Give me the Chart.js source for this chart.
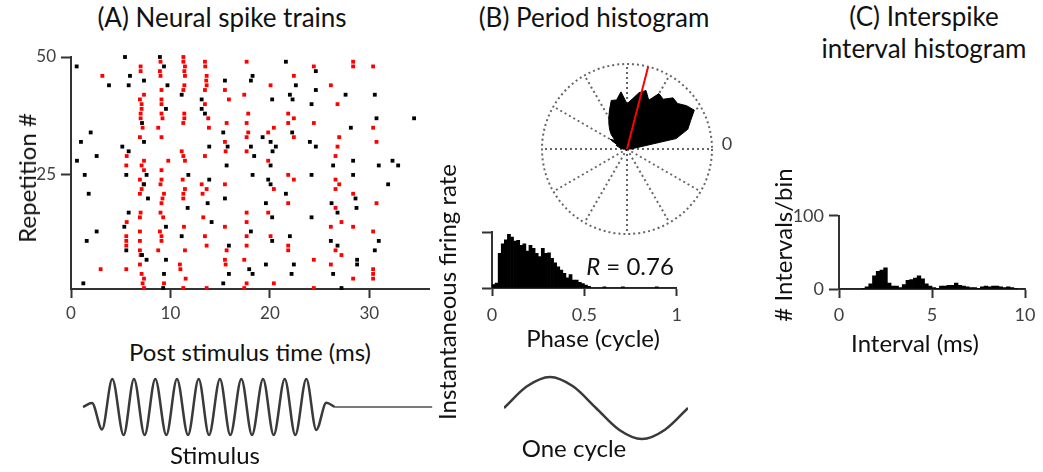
<!DOCTYPE html>
<html>
<head>
<meta charset="utf-8">
<script src="https://cdn.jsdelivr.net/npm/chart.js@4.4.0/dist/chart.umd.min.js"></script>
<style>
  body { margin: 0; background: #fff; width: 1043px; height: 472px; overflow: hidden; position: relative; font-family: Lato, "Open Sans", sans-serif; color: #111; }
  .box { position: absolute; }
  .txt { position: absolute; white-space: nowrap; line-height: 1; transform: translate(-50%, -50%); }
  .rot { transform: translate(-50%, -50%) rotate(-90deg); }
  .title { font-size: 26px; }
  .lab { font-size: 24px; }
</style>
</head>
<body>
<div class="box" style="left:0;top:40px;width:440px;height:290px"><canvas id="raster"></canvas></div>
<div class="box" style="left:71px;top:372px;width:362px;height:70px"><canvas id="stimulus"></canvas></div>
<div class="box" style="left:537px;top:59px;width:180px;height:180px"><canvas id="rose"></canvas></div>
<div class="box" style="left:537px;top:59px;width:180px;height:180px"><canvas id="vector"></canvas></div>
<div class="box" style="left:420px;top:220px;width:270px;height:110px"><canvas id="phase"></canvas></div>
<div class="box" style="left:504px;top:372px;width:184px;height:72px"><canvas id="cycle"></canvas></div>
<div class="box" style="left:760px;top:200px;width:283px;height:130px"><canvas id="isi"></canvas></div>

<div class="txt title" style="left:222px;top:17px">(A) Neural spike trains</div>
<div class="txt title" style="left:594px;top:17px">(B) Period histogram</div>
<div class="txt title" style="left:924px;top:16px">(C) Interspike</div>
<div class="txt title" style="left:924px;top:48px">interval histogram</div>
<div class="txt lab rot" style="left:27px;top:178px">Repetition #</div>
<div class="txt lab" style="left:250px;top:352px">Post stimulus time (ms)</div>
<div class="txt lab" style="left:215px;top:455px">Stimulus</div>
<div class="txt lab rot" style="left:447px;top:292px">Instantaneous firing rate</div>
<div class="txt lab" style="left:630px;top:266px"><i>R</i> = 0.76</div>
<div class="txt lab" style="left:593px;top:338px">Phase (cycle)</div>
<div class="txt lab" style="left:574px;top:448px">One cycle</div>
<div class="txt lab rot" style="left:783px;top:245px"># Intervals/bin</div>
<div class="txt lab" style="left:915px;top:343px">Interval (ms)</div>
<div class="txt" style="left:727px;top:143px;font-size:18px;color:#404040">0</div>

<script>
// (A) spike times [ms, repetition]
const blackSpikes = [
  [5.43,50],[0.57,48],[5.93,46],[3.82,44],[5.80,44],[7.34,45],[7.14,36],[7.34,32],[1.98,34],[1.0,32],
  [5.16,31],[5.80,30],[0.6,28],[2.58,29],[1.38,25],[5.56,25],[7.6,25],[7.34,23],[1.78,21],[7.74,20],
  [5.80,17],[5.36,14],[2.58,13],[1.58,11],[5.56,9],[7.14,8],[7.6,7],[1.24,2],
  [8.94,50],[9.35,48],[9.7,44],[9.55,39],[9.55,14],[9.55,7],[9.35,4],[9.27,1],
  [11.13,42],[11.8,25],[11.73,18],[11.13,12],
  [13.14,41],[13.14,39],[13.47,38],[13.9,31],[13.9,24],[13.74,19],[14.14,15],
  [15.48,45],[15.31,34],[15.75,31],[15.65,27],[15.48,20],[15.88,10],[15.88,4],[15.31,2],
  [18.26,46],[18.09,45],[18.09,31],[18.42,29],[18.26,25],[18.09,13],[17.92,5],[18.26,4],
  [20.23,41],[19.27,33],[20.07,32],[20.6,31],[20.27,30],[20.07,27],[19.83,24],[20.07,23],[19.6,19],
  [20.23,16],[20.23,11],[19.6,6],
  [21.61,49],[22.61,44],[22.01,42],[22.28,41],[22.24,34],[21.61,21],[22.01,12],[22.41,6],[22.18,4],
  [24.62,47],[24.62,43],[24.19,40],[24.02,32],[24.62,31],[24.19,25],[24.19,16],
  [27.61,42],[30.55,42],[30.72,37],[34.5,37],[28.14,35],[28.37,28],[26.36,27],[30.95,27],[32.33,28],
  [32.9,27],[28.37,25],[31.89,23],[26.2,19],[28.61,20],[28.71,18],[26.8,17],[26.13,11],[26.8,10],
  [30.95,11],[30.55,9],[28.77,7],[28.77,6],[26.36,4],[27.2,1]
];
const redSpikes = [
  [3.15,46],[7.0,47],[7.34,42],[6.93,41],[7.0,38],[6.93,33],[5.6,29],[5.56,27],[7.34,28],[7.34,26],
  [6.93,24],[7.1,22],[6.93,21],[6.93,16],[5.6,15],[5.56,12],[6.93,13],[5.56,11],[6.93,11],[5.56,10],
  [6.93,9],[6.93,6],[2.98,5],[5.56,5],[7.1,4],[7.34,3],[7.34,1],
  [7.0,48],[7.1,40],[7.1,39],[7.0,37],[7.2,35],[7.1,27],[7.3,23],[7.0,17],[7.0,8],[7.2,2],
  [8.94,47],[9.0,46],[9.1,43],[9.1,41],[9.1,38],[8.77,35],[9.1,33],[9.78,28],[9.1,26],[9.1,24],
  [9.35,21],[9.1,19],[9.27,16],[8.94,13],[9.1,11],[8.77,9],[9.35,2],
  [9.0,49],[9.1,40],[9.2,37],[9.0,23],[9.2,20],[9.0,17],[9.1,12],
  [11.3,50],[11.46,48],[11.46,46],[11.39,38],[11.29,36],[11.13,30],[11.46,28],[11.23,24],[11.46,22],
  [11.29,20],[11.36,14],[11.46,9],[10.95,6],[11.53,3],[11.29,1],
  [11.3,49],[11.4,47],[11.4,44],[11.3,43],[11.4,37],[11.3,29],[11.3,21],[11.0,5],
  [13.47,49],[13.64,46],[13.64,44],[13.47,43],[13.47,40],[13.8,37],[13.87,35],[13.47,29],[13.14,23],
  [13.64,22],[13.23,21],[13.3,16],[13.47,12],[13.64,10],[13.64,1],[13.5,48],[13.6,45],
  [15.48,43],[15.88,41],[15.65,36],[15.48,32],[15.55,30],[15.48,23],[15.48,14],[15.65,9],[15.48,7],[15.55,6],
  [17.66,49],[17.42,42],[17.82,38],[17.66,36],[17.82,34],[17.66,33],[17.66,30],[17.66,17],[17.66,15],
  [17.66,12],[17.66,10],[17.42,7],[17.66,2],[17.42,1],
  [20.07,44],[20.4,35],[19.83,34],[19.83,28],[20.4,22],[19.83,17],[20.07,12],[20.4,2],
  [22.41,46],[21.84,38],[22.41,37],[21.84,36],[22.41,33],[21.84,25],[22.41,24],[21.84,19],[21.84,9],[21.84,10],
  [24.42,48],[24.42,36],[24.42,7],[24.42,1],
  [28.37,49],[28.37,48],[30.38,48],[26.13,44],[26.8,40],[30.38,35],[26.97,33],[30.72,32],[26.8,31],
  [26.6,29],[26.6,24],[26.97,23],[26.6,22],[28.37,21],[26.6,18],[30.72,19],[27.2,15],[26.13,14],
  [28.37,14],[30.38,13],[26.6,9],[27.2,8],[26.13,6],[30.38,5],[30.38,4],[30.38,3],[28.37,3]
];
const timeTicks = [0, 10, 20, 30];
const repTicks = [25, 50];

// stimulus waveform, extrema (ms, relative amplitude)
const stimT   = [1.21, 2.11, 3.12, 4.15, 5.29, 6.33, 7.40, 8.47, 9.58, 10.65, 11.76, 12.83, 13.87, 14.97, 16.01, 17.12, 18.19, 19.30, 20.37, 21.48, 22.54, 23.65, 24.65, 25.66, 26.5];
const stimAmp = [0, 0.14, -0.8, 1, -1, 1, -1, 1, -1, 1, -1, 1, -1, 1, -1, 1, -1, 1, -1, 1, -1, 1, -0.82, 0.15, 0];
const stimEndMs = 36.3;

// (B) period histogram, 60 bins over one cycle (normalised rate)
const phaseCounts = [
  0.06, 0.09, 0.62, 0.79, 0.86, 0.96, 0.91, 0.84, 0.85, 0.76,
  0.79, 0.66, 0.76, 0.71, 0.62, 0.56, 0.71, 0.62, 0.63, 0.53,
  0.45, 0.38, 0.32, 0.26, 0.18, 0.24, 0.14, 0.14, 0.10, 0.08,
  0.05, 0.03, 0, 0, 0, 0, 0.02, 0, 0, 0,
  0, 0, 0.02, 0, 0, 0, 0, 0, 0, 0,
  0, 0, 0, 0.02, 0, 0, 0, 0, 0, 0
];
const phaseTicks = [0, 0.5, 1];
const meanPhase = 0.21;
const cyclePhase = [0, 0.125, 0.25, 0.375, 0.5, 0.625, 0.75, 0.875, 1];
const cycleAmp = [0, 0.7, 1, 0.7, 0, -0.7, -1, -0.7, 0];

// (C) interspike intervals, 0.2 ms bins
const isiBinMs = 0.2;
const isiCounts = [
  0, 0, 0, 0, 0, 0, 1, 3, 7, 18,
  24, 26, 29, 8, 4, 4, 2, 6, 12, 13,
  15, 18, 14, 7, 4, 2, 1, 4, 4, 5,
  5, 8, 5, 4, 3, 2, 2, 1, 3, 4,
  3, 4, 4, 3, 2, 3, 2, 1, 0, 0
];
const isiPeriodMs = [2.11, 4.32, 6.47, 8.62];
const isiTicksX = [0, 5, 10];
const isiTicksY = [0, 100];

const FONT = "Lato, 'Open Sans', sans-serif";
const AXIS = '#333';
const TICK_TXT = '#404040';
const GRID_DOTS = '#666';
const ROSE_MAX = 1.05;

const base = {
  responsive: true,
  maintainAspectRatio: false,
  animation: false,
  events: [],
  plugins: { legend: { display: false }, tooltip: { enabled: false } },
};

function axisStyle(size, tickLen, pad, ticks, showLabels = true) {
  return {
    border: { display: true, color: AXIS, width: 2 },
    grid: { display: true, drawOnChartArea: false, drawTicks: true, tickLength: tickLen, tickColor: AXIS, tickWidth: 2, offset: false },
    ticks: {
      display: showLabels,
      color: TICK_TXT,
      font: { family: FONT, size: size },
      padding: pad,
      maxRotation: 0,
      autoSkip: false,
      callback: (v) => String(v),
    },
    afterBuildTicks: (s) => { s.ticks = ticks.map((v) => ({ value: v })); },
  };
}

function hiddenAxis(min, max) {
  return { type: 'linear', display: false, min: min, max: max };
}

// (A) raster
new Chart(document.getElementById('raster'), {
  type: 'scatter',
  data: {
    datasets: [
      { data: blackSpikes.map((p) => ({ x: p[0], y: p[1] })), pointStyle: 'rect', pointRadius: 2.7, backgroundColor: '#000', borderWidth: 0, clip: false },
      { data: redSpikes.map((p) => ({ x: p[0], y: p[1] })), pointStyle: 'rect', pointRadius: 2.7, backgroundColor: '#ff0000', borderWidth: 0, clip: false },
    ],
  },
  options: {
    ...base,
    layout: { padding: { left: 0, right: 11, top: 17, bottom: 0 } },
    scales: {
      x: { type: 'linear', min: 0, max: 36, ...axisStyle(17, 9, 5, timeTicks), afterFit: (s) => { s.height = 41; } },
      y: { type: 'linear', min: 0.8, max: 50, ...axisStyle(17, 10, 5, repTicks), afterFit: (s) => { s.width = 71; } },
    },
  },
});

// stimulus
new Chart(document.getElementById('stimulus'), {
  type: 'line',
  data: {
    datasets: [
      { data: stimT.map((t, i) => ({ x: t, y: stimAmp[i] })), borderColor: '#3a3a3a', borderWidth: 2.5, pointRadius: 0, cubicInterpolationMode: 'monotone', clip: false },
      { data: [{ x: stimT[stimT.length - 1], y: 0 }, { x: stimEndMs, y: 0 }], borderColor: '#7a7a7a', borderWidth: 2, pointRadius: 0, clip: false },
    ],
  },
  options: { ...base, layout: { padding: 0 }, scales: { x: hiddenAxis(0, 36.38), y: hiddenAxis(-1.25, 1.25) } },
});

// (B) rose plot
new Chart(document.getElementById('rose'), {
  type: 'radar',
  data: {
    labels: phaseCounts.map(() => ''),
    datasets: [{ data: phaseCounts.slice().reverse(), backgroundColor: '#000', borderColor: '#000', borderWidth: 1, pointRadius: 0, fill: 'origin' }],
  },
  options: {
    ...base,
    layout: { padding: 5 },
    scales: {
      r: {
        min: 0, max: ROSE_MAX, startAngle: 96,
        ticks: { display: false, count: 2 },
        pointLabels: { display: false },
        grid: { circular: true, color: GRID_DOTS, lineWidth: 2 },
        border: { dash: [2, 3] },
        angleLines: { display: true, color: GRID_DOTS, lineWidth: (c) => (c.index % 5 === 4 ? 2 : 0), borderDash: [2, 3] },
      },
    },
  },
});

// mean phase vector
const ang = 2 * Math.PI * meanPhase;
new Chart(document.getElementById('vector'), {
  type: 'scatter',
  data: {
    datasets: [{ data: [{ x: 0, y: 0 }, { x: ROSE_MAX * Math.cos(ang), y: ROSE_MAX * Math.sin(ang) }], showLine: true, borderColor: '#ff0000', borderWidth: 2, pointRadius: 0, clip: false }],
  },
  options: { ...base, layout: { padding: 5 }, scales: { x: hiddenAxis(-ROSE_MAX, ROSE_MAX), y: hiddenAxis(-ROSE_MAX, ROSE_MAX) } },
});

// period histogram
new Chart(document.getElementById('phase'), {
  type: 'bar',
  data: {
    datasets: [{ data: phaseCounts.map((v, i) => ({ x: (i + 0.5) / phaseCounts.length, y: v })), backgroundColor: '#000', barPercentage: 1, categoryPercentage: 1 }],
  },
  options: {
    ...base,
    layout: { padding: { left: 0, right: 12, top: 12, bottom: 0 } },
    scales: {
      x: { type: 'linear', min: 0, max: 1, offset: false, ...axisStyle(18, 8, 8, phaseTicks), afterFit: (s) => { s.height = 42; } },
      y: { type: 'linear', min: 0, max: 1, ...axisStyle(18, 10, 5, [0, 1], false), afterFit: (s) => { s.width = 72; } },
    },
  },
});

// one cycle of the stimulus
new Chart(document.getElementById('cycle'), {
  type: 'line',
  data: { datasets: [{ data: cyclePhase.map((p, i) => ({ x: p, y: cycleAmp[i] })), borderColor: '#3a3a3a', borderWidth: 2.5, pointRadius: 0, cubicInterpolationMode: 'monotone', clip: false }] },
  options: { ...base, layout: { padding: 0 }, scales: { x: hiddenAxis(0, 1), y: hiddenAxis(-1.16, 1.16) } },
});

// (C) ISI histogram
new Chart(document.getElementById('isi'), {
  type: 'bar',
  data: {
    datasets: [
      { data: isiCounts.map((v, i) => ({ x: (i + 0.5) * isiBinMs, y: v })), backgroundColor: '#000', barPercentage: 1, categoryPercentage: 1, order: 2 },
      { type: 'line', data: isiPeriodMs.map((t) => ({ x: t, y: -15 })), showLine: false, pointRadius: 5, pointBackgroundColor: '#000', pointBorderWidth: 0, clip: false, order: 1 },
    ],
  },
  options: {
    ...base,
    layout: { padding: { left: 0, right: 18, top: 15, bottom: 0 } },
    scales: {
      x: { type: 'linear', min: 0, max: 10, offset: false, ...axisStyle(18, 9, 6, isiTicksX), afterFit: (s) => { s.height = 41; } },
      y: { type: 'linear', min: 0, max: 100, ...axisStyle(18, 10, 5, isiTicksY), afterFit: (s) => { s.width = 79; } },
    },
  },
});
</script>
</body>
</html>
